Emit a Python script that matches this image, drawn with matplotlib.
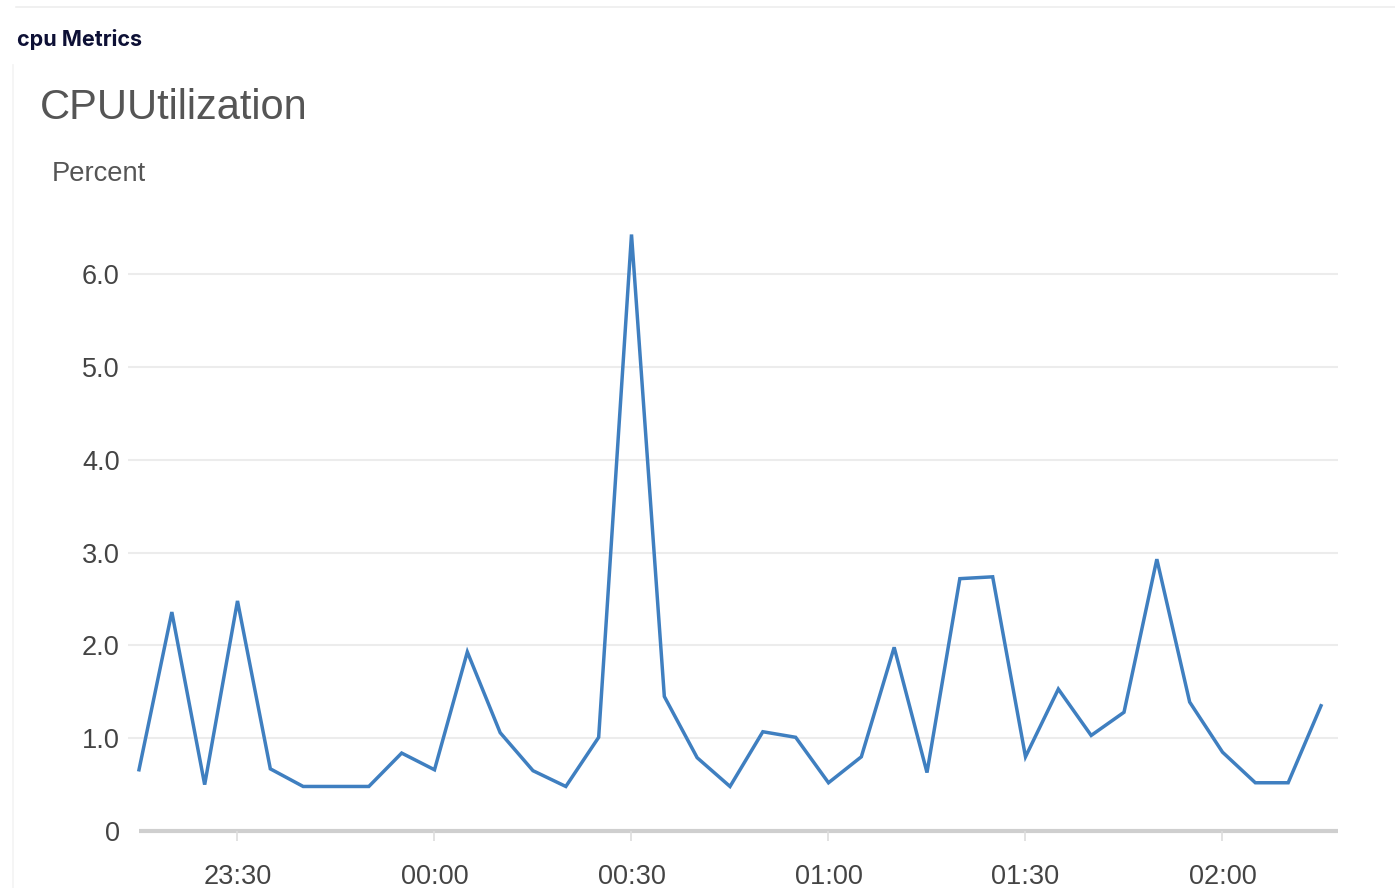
"""
CPUUtilization line chart (CloudWatch style), 5-minute samples.
"""
import matplotlib
matplotlib.use("Agg")
import matplotlib.pyplot as plt
import matplotlib.dates as mdates
import pandas as pd

# ----------------------------------------------------------------------
# Data
# ----------------------------------------------------------------------
start = "2024-01-01 23:15"
cpu_pct = [0.66, 2.36, 0.50, 2.48, 0.67, 0.48, 0.48, 0.48, 0.84, 0.66,
           1.93, 1.06, 0.65, 0.48, 1.01, 6.43, 1.45, 0.79, 0.48, 1.07,
           1.01, 0.52, 0.80, 1.98, 0.63, 2.72, 2.74, 0.80, 1.53, 1.03,
           1.28, 2.93, 1.39, 0.85, 0.52, 0.52, 1.35]
times = pd.date_range(start, periods=len(cpu_pct), freq="5min")

y_ticks = [0, 1, 2, 3, 4, 5, 6]
y_labels = ["0", "1.0", "2.0", "3.0", "4.0", "5.0", "6.0"]
x_ticks = pd.to_datetime(["2024-01-01 23:30", "2024-01-02 00:00",
                          "2024-01-02 00:30", "2024-01-02 01:00",
                          "2024-01-02 01:30", "2024-01-02 02:00"])

LINE = "#3f7fc0"
GRID = "#ececec"
TEXT = "#444444"

# ----------------------------------------------------------------------
# Figure
# ----------------------------------------------------------------------
fig = plt.figure(figsize=(13.95, 8.88), dpi=100)
fig.patch.set_facecolor("white")
ax = fig.add_axes([128 / 1395, 57 / 888, (1338 - 128) / 1395, (831 - 228) / 888])

ax.plot(times, cpu_pct, color=LINE, lw=2.5, solid_joinstyle="miter")

# x range: a bit of room left of the first sample for the gridlines
px_per_min = 197 / 30.0
left = times[0] - pd.Timedelta(minutes=(139 - 128) / px_per_min)
right = times[0] + pd.Timedelta(minutes=(1338 - 139) / px_per_min)
ax.set_xlim(left, right)
ax.set_ylim(0, 6.5)

# gridlines + baseline
for v in y_ticks[1:]:
    ax.axhline(v, color=GRID, lw=1.5, zorder=0)
ax.hlines(0, times[0], right, color="#cfcfcf", lw=3, zorder=1, clip_on=False)

for s in ax.spines.values():
    s.set_visible(False)

ax.set_yticks(y_ticks)
ax.set_yticklabels(y_labels)
ax.tick_params(axis="y", length=0, pad=6, labelsize=19.5, labelcolor=TEXT)

ax.set_xticks(x_ticks)
ax.xaxis.set_major_formatter(mdates.DateFormatter("%H:%M"))
ax.tick_params(axis="x", length=7, width=1.2, color="#dddddd", pad=17,
               labelsize=19.5, labelcolor=TEXT)

for lab in ax.get_xticklabels() + ax.get_yticklabels():
    lab.set_family(["Liberation Sans", "DejaVu Sans"])

# headings
fig.text(40 / 1395, 1 - 108 / 888, "CPUUtilization", fontsize=30,
         color="#555555", family="Liberation Sans", va="center")
fig.text(52 / 1395, 1 - 174 / 888, "Percent", fontsize=19.7,
         color="#555555", family="Liberation Sans", va="center")
fig.text(17 / 1395, 1 - 39 / 888, "cpu Metrics", fontsize=15.5,
         fontweight="bold", color="#0d1035", family="Inter", va="center")

# faint frame lines of the surrounding panel
fig.add_artist(plt.Line2D([16 / 1395, 1], [1 - 7 / 888, 1 - 7 / 888],
                          color="#eeeeee", lw=1.2))
fig.add_artist(plt.Line2D([13 / 1395, 13 / 1395], [0, 1 - 65 / 888],
                          color="#f3f3f3", lw=1.2))

fig.savefig("out.png", dpi=100)
plt.close(fig)
